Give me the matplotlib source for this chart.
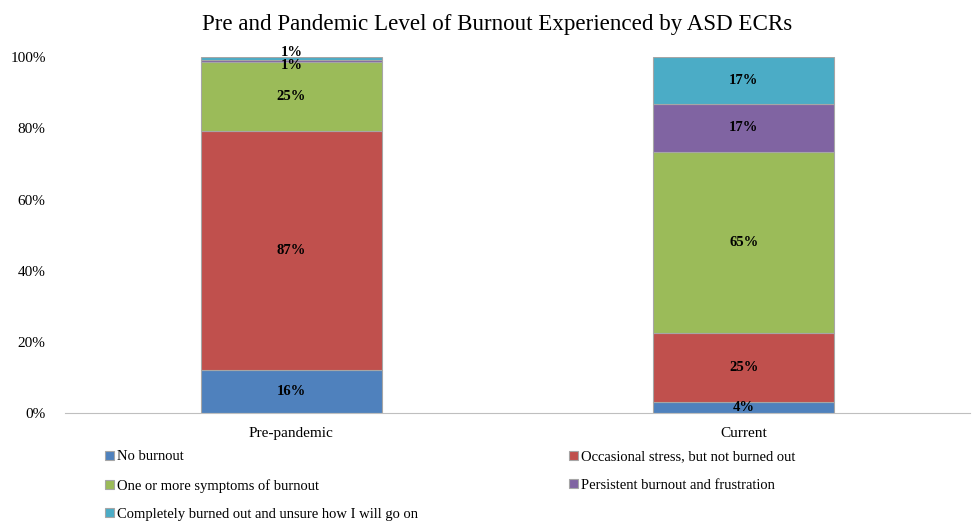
import numpy as np
import matplotlib
matplotlib.use('Agg')
import matplotlib.pyplot as plt

plt.rcParams['font.family'] = ['Liberation Serif', 'DejaVu Serif']

periods = ['Pre-pandemic', 'Current']
levels = ['No burnout',
          'Occasional stress, but not burned out',
          'One or more symptoms of burnout',
          'Persistent burnout and frustration',
          'Completely burned out and unsure how I will go on']
colors = ['#4F81BD', '#C0504D', '#9BBB59', '#8064A2', '#4BACC6']

# responses per level (labels in the chart show these counts with a % sign)
no_burnout = [16, 4]
occasional = [87, 25]
symptoms = [25, 65]
persistent = [1, 17]
completely = [1, 17]

counts = np.array([no_burnout, occasional, symptoms, persistent, completely], dtype=float)
shares = counts / counts.sum(axis=0)

fig = plt.figure(figsize=(9.73, 5.22), dpi=100)
ax = fig.add_axes([0.067, 0.208, 0.93, 0.683])

x = np.arange(len(periods))
bottom = np.zeros(len(periods))
handles = []
for i in range(len(levels)):
    b = ax.bar(x, shares[i], 0.4, bottom=bottom, color=colors[i],
               edgecolor='#A6A6A6', linewidth=0.8, label=levels[i])
    handles.append(b)
    for j in range(len(periods)):
        dy = 0
        if shares[i][j] < 0.03:
            # tiny slices: nudge labels apart like the original
            dy = -3 if i == 3 else 4
        ax.annotate('%d%%' % counts[i][j], (x[j], bottom[j] + shares[i][j] / 2),
                    xytext=(0, dy), textcoords='offset points',
                    ha='center', va='center', fontsize=10.5, fontweight='bold')
    bottom += shares[i]

ax.set_xlim(-0.5, 1.5)
ax.set_ylim(0, 1.0)
ax.set_yticks(np.arange(0, 1.01, 0.2))
ax.set_yticklabels(['%d%%' % v for v in range(0, 101, 20)])
ax.set_xticks(x)
ax.set_xticklabels(periods)
ax.tick_params(axis='both', length=0, labelsize=11)
ax.tick_params(axis='y', pad=14)
ax.tick_params(axis='x', pad=10)
for s in ['top', 'right', 'left']:
    ax.spines[s].set_visible(False)
ax.spines['bottom'].set_color('#BFBFBF')

fig.text(0.511, 0.953, 'Pre and Pandemic Level of Burnout Experienced by ASD ECRs',
         ha='center', va='center', fontsize=16.6)

order = [0, 2, 4, 1, 3]
fig.legend([handles[k] for k in order], [levels[k] for k in order],
           loc='upper left', bbox_to_anchor=(0.108, 0.137), ncol=2,
           frameon=False, fontsize=10.5, handlelength=0.6, handleheight=0.6,
           handletextpad=0.2, labelspacing=1.05, columnspacing=10.4,
           borderaxespad=0, borderpad=0)

fig.savefig('out.png', dpi=100)
